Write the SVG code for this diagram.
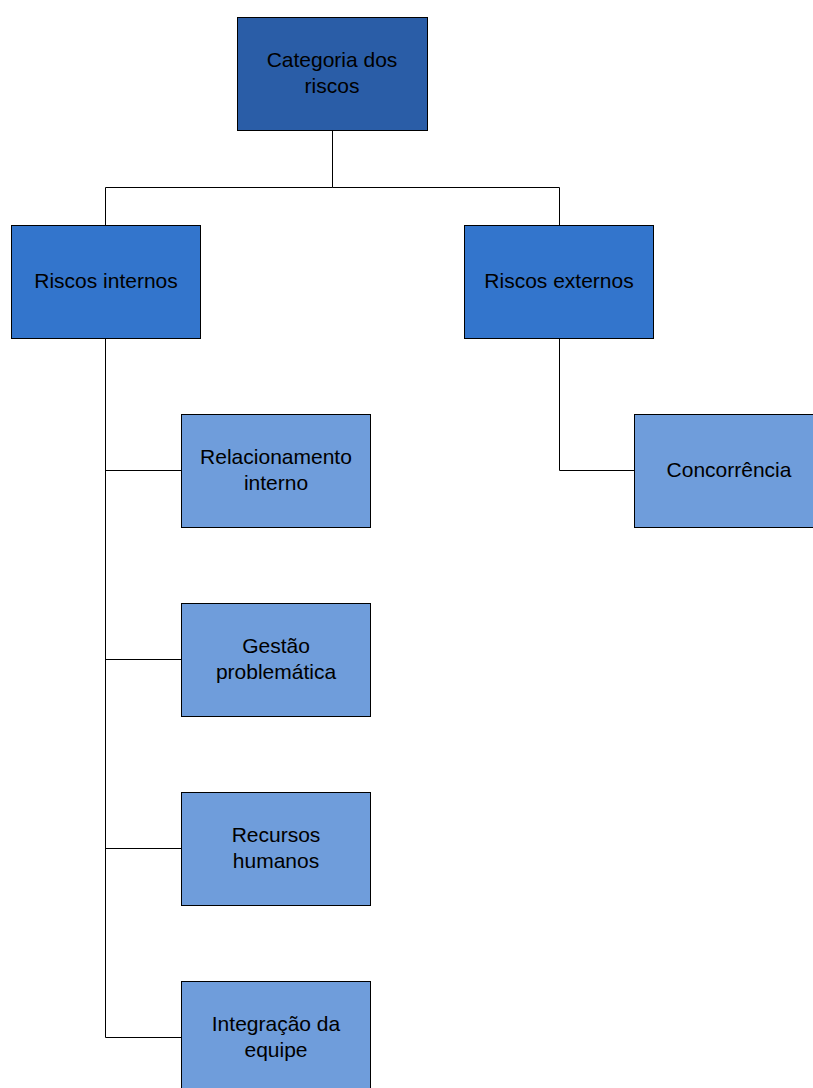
<svg xmlns="http://www.w3.org/2000/svg" width="813" height="1088" viewBox="0 0 813 1088">
<style>
rect{stroke:#000;stroke-width:1}
.l1{fill:#2A5DA7}
.l2{fill:#3375CC}
.l3{fill:#6F9DDB}
text{font-family:"Liberation Sans",Arial,sans-serif;font-size:21px;fill:#000;text-anchor:middle}
#connectors path{fill:none;stroke:#000;stroke-width:1}
</style>
<rect x="0" y="0" width="813" height="1088" fill="#fff" style="stroke:none"/>
<g id="connectors">
<path d="M332.5 130V187.5H105.5V225M332.5 187.5H559.5V225"/>
<path d="M105.5 338V1037.5H181M105.5 470.5H181M105.5 659.5H181M105.5 848.5H181"/>
<path d="M559.5 338V470.5H634"/>
</g>
<g id="n-categoria"><rect class="l1" x="237.5" y="17.5" width="190" height="113"/><text x="332" y="67">Categoria dos</text><text x="332" y="93">riscos</text></g>
<g id="n-internos"><rect class="l2" x="11.5" y="225.5" width="189" height="113"/><text x="106" y="288">Riscos internos</text></g>
<g id="n-externos"><rect class="l2" x="464.5" y="225.5" width="189" height="113"/><text x="559" y="288">Riscos externos</text></g>
<g id="n-relacionamento"><rect class="l3" x="181.5" y="414.5" width="189" height="113"/><text x="276" y="464">Relacionamento</text><text x="276" y="490">interno</text></g>
<g id="n-gestao"><rect class="l3" x="181.5" y="603.5" width="189" height="113"/><text x="276" y="653">Gestão</text><text x="276" y="679">problemática</text></g>
<g id="n-recursos"><rect class="l3" x="181.5" y="792.5" width="189" height="113"/><text x="276" y="842">Recursos</text><text x="276" y="868">humanos</text></g>
<g id="n-integracao"><rect class="l3" x="181.5" y="981.5" width="189" height="113"/><text x="276" y="1031">Integração da</text><text x="276" y="1057">equipe</text></g>
<g id="n-concorrencia"><rect class="l3" x="634.5" y="414.5" width="189" height="113"/><text x="729" y="477">Concorrência</text></g>
</svg>
